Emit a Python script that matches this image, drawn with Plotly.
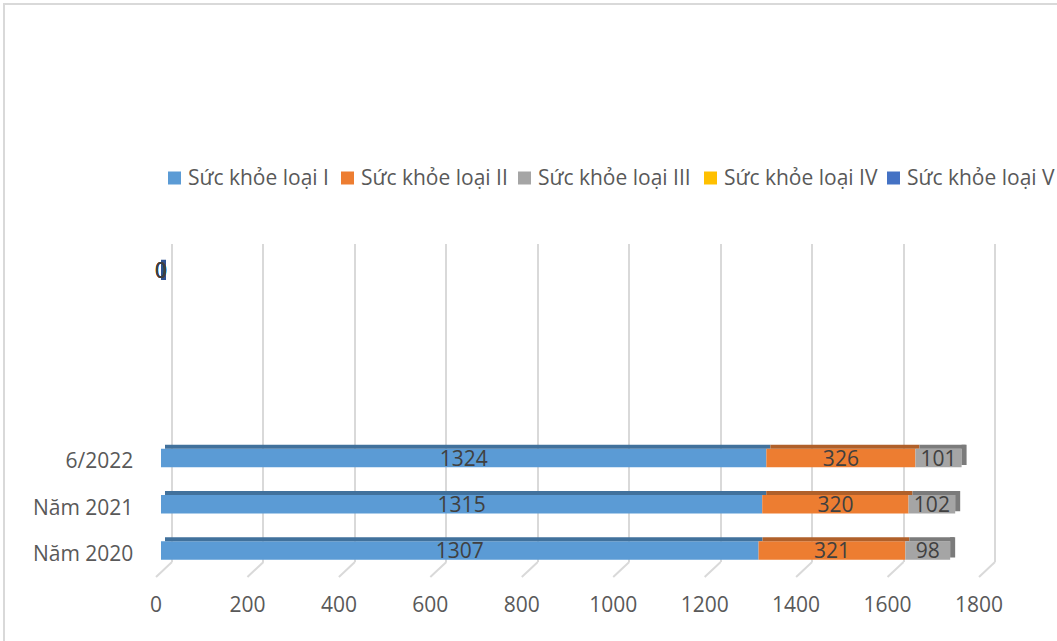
import plotly.graph_objects as go

# ---------------- data ----------------
categories = ["Năm 2020", "Năm 2021", "6/2022", "", "", "", ""]
series_names = ["Sức khỏe loại I", "Sức khỏe loại II", "Sức khỏe loại III",
                "Sức khỏe loại IV", "Sức khỏe loại V"]
loai_I = [1307, 1315, 1324, None, None, None, 0]
loai_II = [321, 320, 326, None, None, None, 0]
loai_III = [98, 102, 101, None, None, None, 0]
loai_IV = [None, None, None, None, None, None, 0]
loai_V = [None, None, None, None, None, None, 0]
x_tick_values = [0, 200, 400, 600, 800, 1000, 1200, 1400, 1600, 1800]
x_tick_labels = ["0", "200", "400", "600", "800", "1000", "1200", "1400", "1600", "1800"]

series_values = [loai_I, loai_II, loai_III, loai_IV, loai_V]

# ---------------- style ----------------
W, H = 1057, 641
colors = ["#5B9BD5", "#ED7D31", "#A5A5A5", "#FFC000", "#4472C4"]
top_colors = ["#41719C", "#B0602A", "#7B7B7B", "#BC8C00", "#2F528F"]
FONT = "Open Sans"
FS = 21
TEXT_GRAY = "#595959"
LABEL_GRAY = "#404040"
GRID = "#D9D9D9"


def px(p):
    return p / W


def py(p):
    return 1 - p / H


XMAX = 1800
x_front = (161, 984)     # bar (front) plane: pixel of 0 and 1800
x_back = (172, 995)      # grid (back) plane
x_lab = (156, 979)       # tick label plane
px_per_unit = (x_front[1] - x_front[0]) / XMAX
PAD = 12  # units of padding so edge gridlines are drawn


def dom(pair):
    return [px(pair[0] - PAD * px_per_unit), px(pair[1] + PAD * px_per_unit)]


ypos = list(range(len(categories)))
fig = go.Figure()

# grid subplot (x / y) and tick-label subplot (x3 / y3)
fig.add_trace(go.Scatter(x=[None], y=[None], xaxis="x", yaxis="y",
                         showlegend=False, hoverinfo="skip"))
fig.add_trace(go.Scatter(x=[None], y=[None], xaxis="x3", yaxis="y3",
                         showlegend=False, hoverinfo="skip"))

BAR_W = 0.40
TOP_W = 0.087
skew = 4 / px_per_unit
side_len = 5 / px_per_unit

bases = [0] * len(categories)
last_color = [top_colors[-1]] * len(categories)
for i, vals in enumerate(series_values):
    base_i = list(bases)
    txt = [("" if (v is None or v == 0) else str(v)) for v in vals]
    # front face
    fig.add_trace(go.Bar(
        y=ypos, x=vals, base=base_i, orientation="h",
        width=BAR_W, offset=-BAR_W / 2,
        marker=dict(color=colors[i], line=dict(width=0)),
        text=txt, textposition="inside", insidetextanchor="middle",
        textangle=0, constraintext="none",
        textfont=dict(family=FONT, size=FS, color=LABEL_GRAY),
        name=series_names[i], showlegend=False,
        xaxis="x2", yaxis="y2",
    ))
    # top face (3D look)
    fig.add_trace(go.Bar(
        y=ypos, x=vals, base=[b + skew for b in base_i], orientation="h",
        width=TOP_W, offset=BAR_W / 2,
        marker=dict(color=top_colors[i], line=dict(width=0)),
        showlegend=False, hoverinfo="skip",
        xaxis="x2", yaxis="y2",
    ))
    for k, v in enumerate(vals):
        if v is not None:
            if v > 0:
                last_color[k] = top_colors[i]
            bases[k] = bases[k] + v

# right side face of each stacked bar
has_data = [any(s[k] is not None for s in series_values) for k in range(len(categories))]
fig.add_trace(go.Bar(
    y=[y for y, h in zip(ypos, has_data) if h],
    x=[side_len for h in has_data if h],
    base=[b for b, h in zip(bases, has_data) if h],
    orientation="h", width=BAR_W + TOP_W - 0.05, offset=-BAR_W / 2 + 0.05,
    marker=dict(color=[c for c, h in zip(last_color, has_data) if h], line=dict(width=0)),
    showlegend=False, hoverinfo="skip", xaxis="x2", yaxis="y2",
))

# labels for zero values
for i, vals in enumerate(series_values):
    zy = [y for y, v in zip(ypos, vals) if v == 0]
    zx = [v for v in vals if v == 0]
    fig.add_trace(go.Scatter(
        x=zx, y=zy, mode="text", text=[str(v) for v in zx],
        textposition="middle center", cliponaxis=False,
        textfont=dict(family=FONT, size=FS, color=LABEL_GRAY),
        showlegend=False, hoverinfo="skip", xaxis="x2", yaxis="y2",
    ))

# ---------------- layout ----------------
y_front = (250, 573.6)
y_back = (244, 562)

fig.update_layout(
    width=W, height=H,
    margin=dict(l=0, r=0, t=0, b=0, pad=0, autoexpand=False),
    paper_bgcolor="white", plot_bgcolor="rgba(0,0,0,0)",
    barmode="overlay", showlegend=False,
    font=dict(family=FONT, color=TEXT_GRAY),
    xaxis=dict(domain=dom(x_back), range=[-PAD, XMAX + PAD],
               tickvals=x_tick_values, showticklabels=False,
               showgrid=True, gridcolor=GRID, gridwidth=2,
               zeroline=False, showline=False, anchor="y", fixedrange=True),
    yaxis=dict(domain=[py(y_back[1]), py(y_back[0])], range=[0, 1],
               visible=False, anchor="x", fixedrange=True),
    xaxis2=dict(domain=dom(x_front), range=[-PAD, XMAX + PAD],
                showgrid=False, showticklabels=False, zeroline=False,
                showline=False, anchor="y2", fixedrange=True),
    yaxis2=dict(domain=[py(y_front[1]), py(y_front[0])], range=[-0.5, 6.5],
                tickvals=ypos, ticktext=categories,
                ticks="outside", ticklen=17, tickcolor="rgba(0,0,0,0)",
                ticklabelshift=3,
                tickfont=dict(family=FONT, size=FS, color=TEXT_GRAY),
                showgrid=False, zeroline=False, showline=False,
                anchor="x2", fixedrange=True),
    xaxis3=dict(domain=dom(x_lab), range=[-PAD, XMAX + PAD],
                tickvals=x_tick_values, ticktext=x_tick_labels,
                tickfont=dict(family=FONT, size=FS, color=TEXT_GRAY),
                showgrid=False, zeroline=False, showline=False,
                anchor="y3", fixedrange=True),
    yaxis3=dict(domain=[py(590), py(300)], range=[0, 1], visible=False,
                anchor="x3", fixedrange=True),
)

shapes = []
# chart border
shapes.append(dict(type="rect", xref="paper", yref="paper",
                   x0=px(4), y0=py(4), x1=1.05, y1=-0.05,
                   line=dict(color=GRID, width=2), fillcolor="rgba(0,0,0,0)",
                   layer="below"))
# floor slants of the gridlines (back-plane pixel -> front-plane pixel)
for v in x_tick_values:
    xb = x_back[0] + v * px_per_unit
    shapes.append(dict(type="line", xref="paper", yref="paper",
                       x0=px(xb), y0=py(y_back[1]), x1=px(xb - 16), y1=py(577),
                       line=dict(color=GRID, width=2), layer="below"))

# manual legend
legend_sq_x = [168, 341, 518, 704, 887]
legend_y = 178
annotations = []
for i, name in enumerate(series_names):
    shapes.append(dict(type="rect", xref="paper", yref="paper",
                       x0=px(legend_sq_x[i]), x1=px(legend_sq_x[i] + 13),
                       y0=py(legend_y - 6.5), y1=py(legend_y + 6.5),
                       fillcolor=colors[i], line=dict(width=0)))
    annotations.append(dict(xref="paper", yref="paper",
                            x=px(legend_sq_x[i] + 18), y=py(legend_y - 1),
                            xanchor="left", yanchor="middle", showarrow=False,
                            text=name,
                            font=dict(family=FONT, size=FS, color=TEXT_GRAY)))

fig.update_layout(shapes=shapes, annotations=annotations)

fig.write_html("out.html")
